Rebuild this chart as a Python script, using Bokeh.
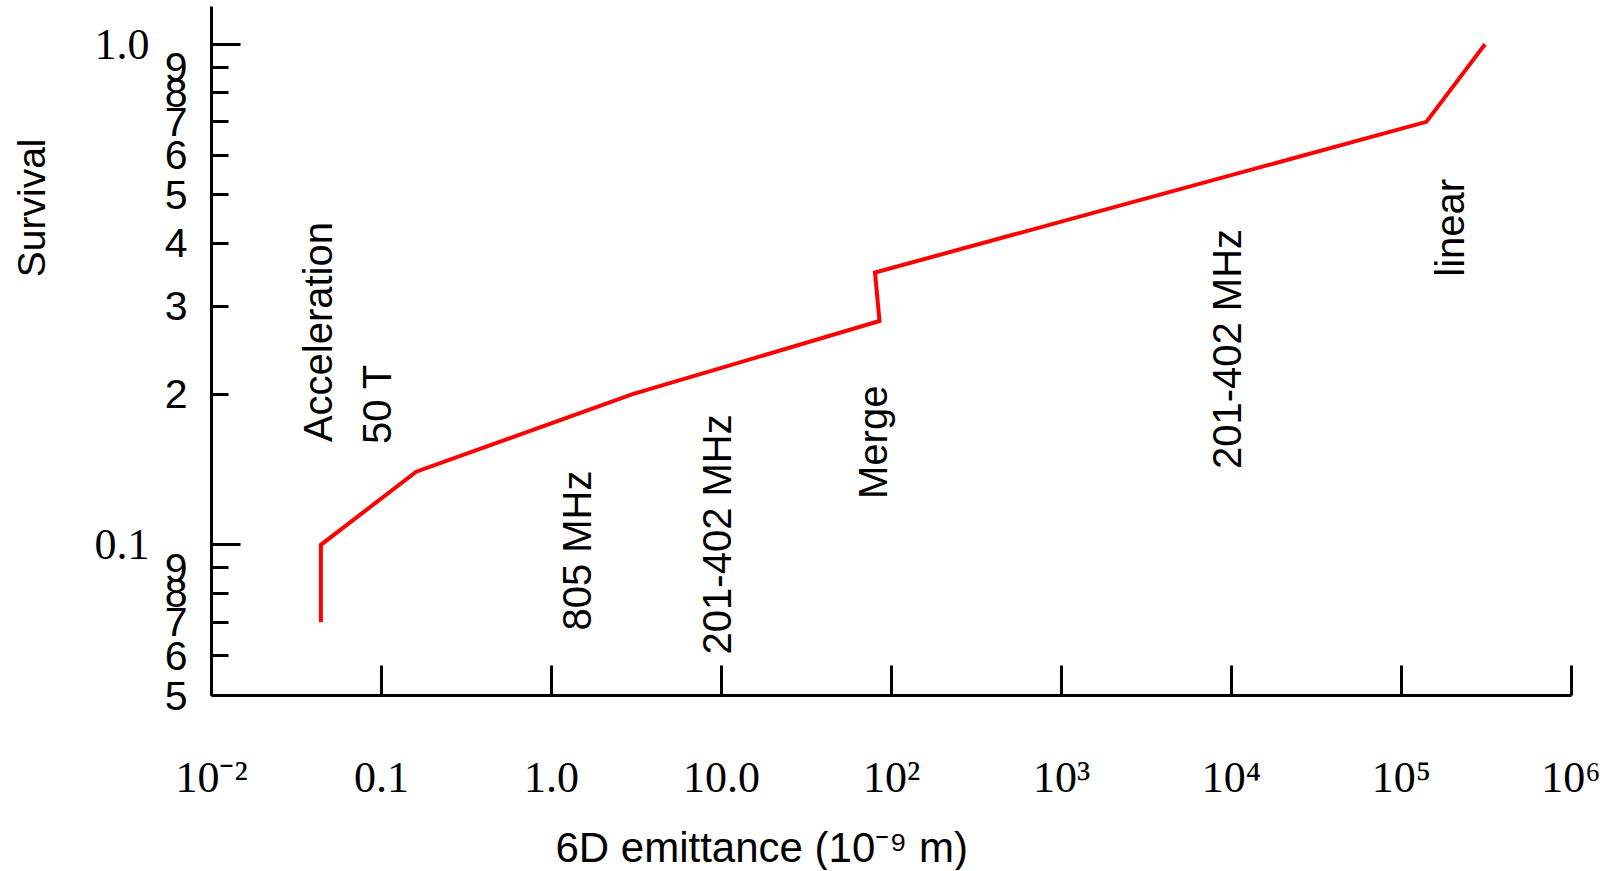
import math
from bokeh.plotting import figure
from bokeh.models import FixedTicker, LogAxis, LogScale, ColumnDataSource, Title
from bokeh.embed import file_html
from bokeh.resources import INLINE
from bokeh.core.properties import value

# ---- data ----
emittance = [0.044, 0.044, 0.16, 3.0, 85.0, 80.0, 1.4e5, 3.1e5]
survival = [0.07, 0.1, 0.14, 0.2, 0.28, 0.35, 0.7, 1.0]

x_ticks = [1e-2, 1e-1, 1e0, 1e1, 1e2, 1e3, 1e4, 1e5, 1e6]
x_tick_labels = ["10⁻²", "0.1", "1.0", "10.0", "10²", "10³", "10⁴", "10⁵", "10⁶"]

y_major_ticks = [0.1, 1.0]
y_major_labels = ["0.1", "1.0"]
y_minor_ticks = [0.05, 0.06, 0.07, 0.08, 0.09, 0.2, 0.3, 0.4, 0.5, 0.6, 0.7, 0.8, 0.9]
y_minor_labels = ["5", "6", "7", "8", "9", "2", "3", "4", "5", "6", "7", "8", "9"]

stage_labels = ["Acceleration", "50 T", "805 MHz", "201-402 MHz", "Merge", "201-402 MHz", "linear"]
stage_x = [0.0421, 0.0947, 1.42, 9.35, 78.3, 9350.0, 1.94e5]
stage_y = [0.1604, 0.159, 0.0674, 0.0604, 0.1235, 0.1417, 0.3434]

x_title = "6D emittance (10⁻⁹ m)"
y_title = "Survival"

SANS = "Liberation Sans"
SERIF = "Liberation Serif"

SHIFT = 40  # canvas is pulled left by this many px so the y title can sit near the edge

p = figure(width=1600 + SHIFT, height=870, x_axis_type="log", y_axis_type=None,
           x_range=(1e-2, 1e6), y_range=(0.05, 1.19),
           output_backend="svg", toolbar_location=None, title=None,
           min_border_left=211 + SHIFT, min_border_right=29, min_border_top=6,
           min_border_bottom=171)
p.styles = {"margin-left": f"-{SHIFT}px"}
p.outline_line_color = None
p.background_fill_color = "white"
p.border_fill_color = "white"
p.y_scale = LogScale()

# x axis
xa = p.xaxis[0]
xa.ticker = FixedTicker(ticks=x_ticks, minor_ticks=[])
xa.major_label_overrides = {float(k): v for k, v in zip(x_ticks, x_tick_labels)}
xa.axis_line_width = 3
xa.axis_line_color = "black"
xa.major_tick_line_width = 3
xa.major_tick_in = 30
xa.major_tick_out = 0
xa.minor_tick_line_color = None
xa.major_label_standoff = 57
xa.major_label_text_font = SERIF
xa.major_label_text_font_size = "44px"
xa.major_label_text_color = "black"
p.xgrid.visible = False

# inner y axis: the line, all ticks, and the single-digit labels
y_inner = LogAxis(ticker=FixedTicker(ticks=y_minor_ticks, minor_ticks=y_major_ticks))
y_inner.major_label_overrides = {float(k): v for k, v in zip(y_minor_ticks, y_minor_labels)}
y_inner.axis_line_width = 3
y_inner.axis_line_color = "black"
y_inner.major_tick_line_width = 3
y_inner.major_tick_in = 17
y_inner.major_tick_out = 0
y_inner.minor_tick_line_width = 3
y_inner.minor_tick_line_color = "black"
y_inner.minor_tick_in = 29
y_inner.minor_tick_out = 0
y_inner.major_label_standoff = 24
y_inner.major_label_text_font = SANS
y_inner.major_label_text_font_size = "41px"
y_inner.major_label_text_color = "black"

# outer y axis: only the decade labels 0.1 and 1.0
y_outer = LogAxis(ticker=FixedTicker(ticks=y_major_ticks, minor_ticks=[]))
y_outer.major_label_overrides = {float(k): v for k, v in zip(y_major_ticks, y_major_labels)}
y_outer.axis_line_color = None
y_outer.major_tick_line_color = None
y_outer.minor_tick_line_color = None
y_outer.major_tick_in = 0
y_outer.major_tick_out = 0
y_outer.major_label_standoff = 12
y_outer.major_label_text_font = SERIF
y_outer.major_label_text_font_size = "44px"
y_outer.major_label_text_color = "black"

p.add_layout(y_inner, "left")
p.add_layout(y_outer, "left")

# axis titles
p.add_layout(Title(text=y_title, align="right", offset=132, standoff=77,
                   text_font=SANS, text_font_size="39px", text_font_style="normal",
                   text_color="black"), "left")
# thin spacer between the x tick labels and the x title
p.add_layout(Title(text=" ", standoff=14, text_font=SANS, text_font_size="1px",
                   text_font_style="normal"), "below")
p.add_layout(Title(text=x_title, align="left", offset=344, standoff=0,
                   text_font=SANS, text_font_size="42px", text_font_style="normal",
                   text_color="black"), "below")

# data line
p.line(emittance, survival, line_color="#ff0000", line_width=4, line_join="miter")

# stage annotations
stage_src = ColumnDataSource(dict(x=stage_x, y=stage_y, text=stage_labels))
p.text(x="x", y="y", text="text", source=stage_src, angle=math.pi / 2,
       text_align="left", text_baseline="middle",
       text_font=value(SANS), text_font_size=value("40px"), text_color="black")

open("out.html", "w").write(file_html(p, INLINE))
